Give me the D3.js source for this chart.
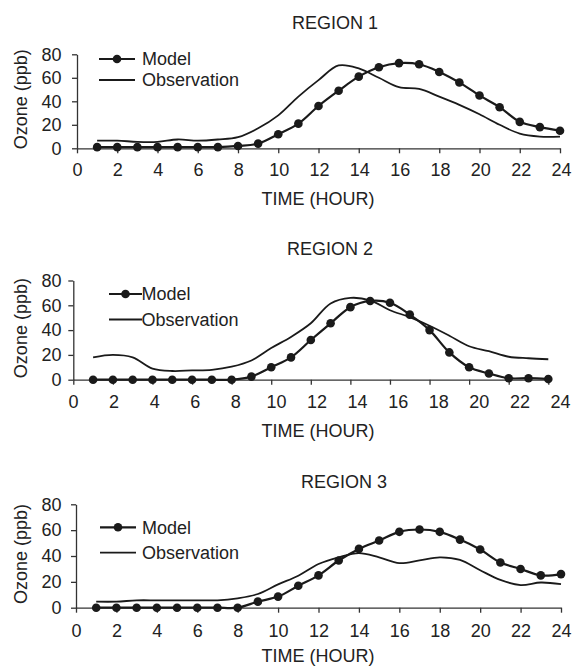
<!DOCTYPE html>
<html>
<head>
<meta charset="utf-8">
<script src="https://cdn.jsdelivr.net/npm/d3@7.9.0/dist/d3.min.js"></script>
<style>
  body { margin: 0; background: #fff; }
  svg text { font-family: "Liberation Sans", Arial, sans-serif; fill: #222; }
</style>
</head>
<body>
<svg id="chart" width="577" height="666"></svg>
<script>
// hours of the day
const hours = [1, 2, 3, 4, 5, 6, 7, 8, 9, 10, 11, 12, 13, 14, 15, 16, 17, 18, 19, 20, 21, 22, 23, 24];

// REGION 1
const model1 = [1, 1, 1, 1, 1, 1, 1, 2, 4, 12, 21, 36, 49, 61, 69, 72.5, 71.5, 65, 56, 45, 35, 22.5, 18, 15];
const obs1 = [6.5, 6.5, 5.5, 5.5, 7.5, 6.5, 7.5, 9.5, 17, 28, 44, 58, 70.5, 68, 60, 52, 50.5, 44, 37, 29, 20, 12.5, 10, 10];

// REGION 2
const model2 = [0, 0, 0, 0, 0, 0, 0, 0, 2.5, 10, 18, 32, 45.5, 58.5, 63.5, 62, 52.5, 40, 22, 10, 5, 1.2, 1.2, 0.5];
const obs2 = [18, 20, 18, 9, 7, 7.5, 8, 10.5, 15.5, 25.5, 34.5, 45.5, 61.5, 66, 64, 56, 50.5, 43.5, 35.5, 27, 23, 18.5, 17.3, 16.5];

// REGION 3
const model3 = [0, 0, 0, 0, 0, 0, 0, 0, 4.7, 8.6, 17, 25, 36.5, 45.5, 52, 58.7, 60.5, 58.7, 52.7, 45, 35, 30, 25, 26];
const obs3 = [4.7, 4.7, 5.7, 5.7, 5.7, 5.7, 5.7, 7.3, 10.6, 18, 24.7, 33.8, 39, 42.3, 39, 34.5, 36.6, 39, 37, 29, 21.5, 17.5, 19.5, 18.3];

const titles = ["REGION 1", "REGION 2", "REGION 3"];
const xTicks = [0, 2, 4, 6, 8, 10, 12, 14, 16, 18, 20, 22, 24];
const yTicks = [0, 20, 40, 60, 80];
const seriesNames = ["Model", "Observation"];

// layout of the three stacked panels (pixel positions only)
const panels = [
  { model: model1, obs: obs1, x0: 77, x1: 560, yTop: 54.3, yBot: 148.3, lab0: 77, lab1: 561,
    titleX: 335, titleY: 28.5, legX: 99, legLen: 36, legText: 142, legY: 59, legY2: 80, axisTitleY: 205, padX: 10 },
  { model: model2, obs: obs2, x0: 73.3, x1: 548.3, yTop: 280.5, yBot: 379.7, lab0: 73, lab1: 560,
    titleX: 330, titleY: 255, legX: 109, legLen: 33, legText: 141.5, legY: 294, legY2: 319.5, axisTitleY: 436.5, padX: 11 },
  { model: model3, obs: obs3, x0: 76, x1: 561, yTop: 504.3, yBot: 607.7, lab0: 76, lab1: 561,
    titleX: 344, titleY: 488, legX: 100, legLen: 36, legText: 142, legY: 527.3, legY2: 552.7, axisTitleY: 662, padX: 12 }
];

const svg = d3.select("#chart");
const ink = "#1a1a1a";
const fontSize = "18px";

panels.forEach((p, i) => {
  let x = d3.scaleLinear().domain([0, 24]).range([p.x0, p.x1]);
  let xLab = d3.scaleLinear().domain([0, 24]).range([p.lab0, p.lab1]);
  let y = d3.scaleLinear().domain([0, 80]).range([p.yBot, p.yTop]);

  let g = svg.append("g");

  // x axis
  let xAxis = g.append("g")
    .attr("transform", `translate(0,${p.yBot})`)
    .call(d3.axisBottom(x).tickValues(xTicks).tickSize(5).tickSizeOuter(0).tickPadding(p.padX));
  xAxis.selectAll("text")
    .attr("x", (d) => xLab(d) - x(d))
    .style("font-size", fontSize);

  // y axis, labels end at a fixed column
  g.append("g")
    .attr("transform", `translate(${p.x0},0)`)
    .call(d3.axisLeft(y).tickValues(yTicks).tickSize(5).tickSizeOuter(0).tickPadding(p.x0 - 61.5 - 5))
    .selectAll("text")
    .style("font-size", fontSize);

  g.selectAll(".domain, .tick line").attr("stroke", "#333").attr("stroke-width", 1.3);

  // observation line
  let line = d3.line()
    .x((d, k) => x(hours[k]))
    .y((d) => y(d))
    .curve(d3.curveCatmullRom.alpha(0.5));

  g.append("path")
    .datum(p.obs)
    .attr("d", line)
    .attr("fill", "none")
    .attr("stroke", ink)
    .attr("stroke-width", 1.8);

  // model line with dots
  g.append("path")
    .datum(p.model)
    .attr("d", line)
    .attr("fill", "none")
    .attr("stroke", ink)
    .attr("stroke-width", 2.2);

  g.selectAll(".dot")
    .data(p.model)
    .enter()
    .append("circle")
    .attr("class", "dot")
    .attr("cx", (d, k) => x(hours[k]))
    .attr("cy", (d) => y(d))
    .attr("r", 4.3)
    .attr("fill", ink);

  // title
  g.append("text")
    .attr("x", p.titleX)
    .attr("y", p.titleY)
    .attr("text-anchor", "middle")
    .style("font-size", fontSize)
    .text(titles[i]);

  // x axis title
  g.append("text")
    .attr("x", 318)
    .attr("y", p.axisTitleY)
    .attr("text-anchor", "middle")
    .style("font-size", fontSize)
    .text("TIME (HOUR)");

  // y axis title
  g.append("text")
    .attr("transform", `translate(21,${(p.yTop + p.yBot) / 2 - 2}) rotate(-90)`)
    .attr("text-anchor", "middle")
    .attr("dy", "0.35em")
    .style("font-size", fontSize)
    .text("Ozone (ppb)");

  // legend
  let leg = g.append("g");
  leg.append("line")
    .attr("x1", p.legX).attr("x2", p.legX + p.legLen)
    .attr("y1", p.legY).attr("y2", p.legY)
    .attr("stroke", ink).attr("stroke-width", 2.2);
  leg.append("circle")
    .attr("cx", p.legX + p.legLen / 2).attr("cy", p.legY).attr("r", 4.3)
    .attr("fill", ink);
  leg.append("line")
    .attr("x1", p.legX).attr("x2", p.legX + p.legLen)
    .attr("y1", p.legY2).attr("y2", p.legY2)
    .attr("stroke", ink).attr("stroke-width", 1.8);

  [p.legY, p.legY2].forEach((ly, k) => {
    leg.append("text")
      .attr("x", p.legText)
      .attr("y", ly)
      .attr("dy", "0.36em")
      .style("font-size", fontSize)
      .text(seriesNames[k]);
  });
});
</script>
</body>
</html>
